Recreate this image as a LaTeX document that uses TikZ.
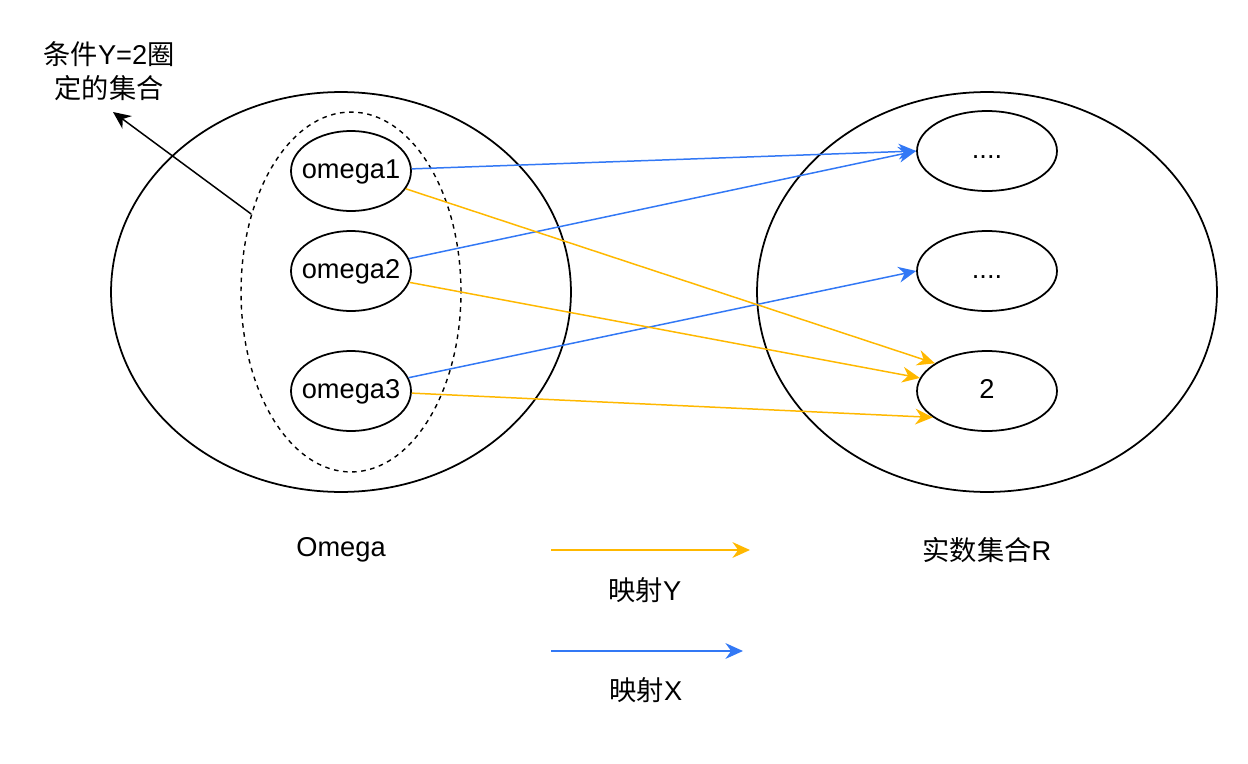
\documentclass[tikz,border=0pt]{standalone}
\usepackage{fontspec}
\setmainfont{Liberation Sans}
\newfontfamily\cjk{Noto Sans CJK SC}
\usetikzlibrary{shapes.geometric, arrows.meta, positioning}
\definecolor{mapyellow}{RGB}{255, 184, 0}
\definecolor{mapblue}{RGB}{50, 120, 245}

\tikzset{
  bigset/.style={draw, ellipse, line width=1pt, minimum width=9.2cm, minimum height=8cm},
  condset/.style={draw, ellipse, line width=0.8pt, dash pattern=on 2.6pt off 2.6pt,
    minimum width=4.4cm, minimum height=7.2cm},
  elem/.style={draw, ellipse, line width=1pt, minimum width=2.4cm, minimum height=1.6cm,
    inner xsep=-5pt, inner ysep=0pt, text height=11pt, text depth=3pt,
    font=\fontsize{15.5}{19.5}\selectfont},
  val/.style={elem, minimum width=2.8cm},
  lbl/.style={font=\fontsize{15.5}{19.5}\selectfont, align=center},
  mapY/.style={mapyellow, line width=0.85pt, -{Stealth[length=10pt, width=9pt]}},
  mapX/.style={mapblue, line width=0.85pt, -{Stealth[length=10pt, width=9pt]}}
}

\begin{document}
\begin{tikzpicture}[x=0.02cm, y=-0.02cm]
  \useasboundingbox (0,0) rectangle (1248,764);

  % --- the two sets ---
  \node[bigset] (omegaset) at (341,292) {};
  \node[bigset] (realset) at (987,292) {};
  \node[condset] (cond) at (351,292) {};

  % elements of Omega
  \node[elem] (w1) at (351,171) {omega1};
  \node[elem] (w2) at (351,271) {omega2};
  \node[elem] (w3) at (351,391) {omega3};

  % values in R
  \node[val] (r1) at (987,151) {....};
  \node[val] (r2) at (987,271) {....};
  \node[val] (r3) at (987,391) {2};

  % --- mapping X (blue) ---
  \draw[mapX] (w1.2) -- (r1.west);
  \draw[mapX] (w2.12) -- (r1.west);
  \draw[mapX] (w3.13) -- (r2.west);

  % --- mapping Y (yellow) ---
  \draw[mapY] (w1.-18) -- (r3.152);
  \draw[mapY] (w2.-11) -- (r3.169);
  \draw[mapY] (w3.-2) -- (r3.206);

  % --- label of the dashed set ---
  \node[lbl] (condlbl) at (109,71) {{\cjk 条件}Y=2{\cjk 圈}\\{\cjk 定的集合}};
  \coordinate (condtip) at (113,112);
  \draw[line width=0.85pt, -{Stealth[length=10pt, width=9pt]}] (cond.142.7) -- (condtip);

  % --- captions and legend ---
  \node[lbl] (omegalbl) at (341,550) {Omega};
  \node[lbl] (reallbl) at (987,550) {{\cjk 实数集合}R};

  \coordinate (ystart) at (551,550);
  \coordinate (yend) at (750,550);
  \draw[mapY] (ystart) -- (yend);
  \node[lbl] (ylbl) at (645,590) {{\cjk 映射}Y};

  \coordinate (xstart) at (551,651);
  \coordinate (xend) at (743,651);
  \draw[mapX] (xstart) -- (xend);
  \node[lbl] (xlbl) at (646,690) {{\cjk 映射}X};
\end{tikzpicture}
\end{document}
